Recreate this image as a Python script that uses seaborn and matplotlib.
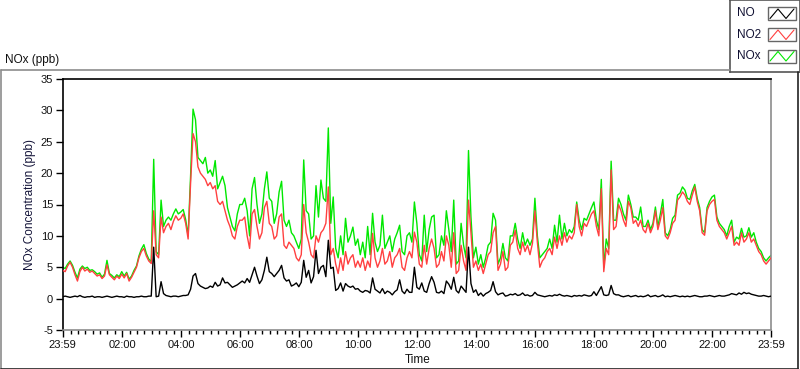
import numpy as np
import pandas as pd
import matplotlib
matplotlib.use('Agg')
import matplotlib.pyplot as plt
import seaborn as sns
from matplotlib.lines import Line2D

# ── data: 5-minute samples, 23:59 -> 23:59 next day (minutes since start) ────
minutes = np.arange(0, 1441, 5)

no = [
    0.3, 0.4, 0.3, 0.2, 0.3, 0.4, 0.3, 0.5, 0.3, 0.2, 0.3, 0.3,
    0.4, 0.2, 0.3, 0.3, 0.2, 0.3, 0.4, 0.3, 0.2, 0.3, 0.4, 0.3,
    0.3, 0.2, 0.4, 0.3, 0.3, 0.2, 0.3, 0.3, 0.4, 0.3, 0.3, 0.4,
    0.4, 8.2, 0.3, 0.4, 2.7, 0.8, 0.5, 0.4, 0.3, 0.4, 0.4, 0.3,
    0.4, 0.5, 0.5, 0.6, 1.5, 3.6, 4.0, 2.4, 2.0, 1.8, 1.6, 1.7,
    2.0, 1.8, 2.6, 2.0, 2.2, 3.3, 2.5, 2.6, 2.2, 1.8, 2.0, 2.2,
    2.5, 2.8, 2.5, 3.2, 2.6, 3.8, 5.0, 3.6, 2.4, 3.0, 4.5, 6.6,
    4.3, 4.0, 3.5, 4.0, 4.5, 5.3, 3.3, 2.8, 3.0, 2.0, 2.2, 2.5,
    1.9, 2.6, 6.1, 3.4, 4.5, 2.5, 3.5, 7.7, 4.0, 5.0, 5.3, 3.5,
    9.3, 4.8, 5.0, 1.3, 1.6, 2.5, 1.2, 2.4, 2.0, 1.8, 2.0, 1.5,
    1.6, 1.2, 1.0, 1.3, 1.2, 0.9, 3.3, 1.5, 1.2, 0.9, 1.6, 0.8,
    1.2, 1.0, 0.6, 1.1, 1.4, 3.0, 1.2, 0.8, 1.5, 1.0, 1.0, 5.0,
    1.8, 1.5, 2.5, 1.2, 1.0, 2.4, 3.5, 2.6, 1.0, 0.9, 1.2, 0.8,
    2.8, 2.3, 1.5, 3.4, 1.3, 0.9, 2.0, 1.5, 1.0, 8.2, 2.4, 1.0,
    1.4, 0.5, 0.9, 0.4, 0.8, 1.0, 1.3, 2.7, 1.1, 0.6, 0.8, 0.9,
    0.4, 0.5, 0.7, 0.6, 0.8, 0.5, 0.6, 0.9, 0.5, 0.6, 0.4, 0.5,
    1.0, 0.6, 0.5, 0.4, 0.3, 0.4, 0.5, 0.4, 0.6, 0.5, 0.7, 0.5,
    0.4, 0.5, 0.4, 0.3, 0.5, 0.4, 0.5, 0.4, 0.6, 0.5, 0.4, 0.5,
    1.1, 0.5, 1.2, 1.9, 0.6, 0.5, 0.6, 2.1, 0.8, 0.6, 0.6, 0.4,
    0.3, 0.4, 0.5, 0.3, 0.4, 0.5, 0.3, 0.4, 0.3, 0.4, 0.6, 0.3,
    0.4, 0.5, 0.3, 0.4, 0.6, 0.3, 0.4, 0.3, 0.4, 0.5, 0.4, 0.3,
    0.4, 0.3, 0.4, 0.3, 0.4, 0.5, 0.4, 0.3, 0.3, 0.4, 0.4, 0.5,
    0.4, 0.3, 0.4, 0.5, 0.4, 0.4, 0.5, 0.6, 0.8, 0.7, 0.6, 0.9,
    0.7, 1.0, 0.8, 0.9, 0.7, 0.6, 0.5, 0.4, 0.4, 0.5, 0.4, 0.3,
    0.4,
]

no2 = [
    4.5, 4.3, 5.2, 5.8, 5.0, 3.8, 2.8, 4.3, 5.0, 4.4, 4.7, 4.2,
    4.4, 4.0, 3.6, 3.8, 3.2, 3.6, 5.4, 3.8, 3.4, 3.0, 3.6, 3.2,
    3.9, 3.3, 4.0, 2.8, 3.4, 4.2, 5.0, 6.5, 7.5, 8.0, 6.8, 6.0,
    5.6, 14.0, 7.0, 6.5, 13.0, 10.5, 11.5, 12.0, 11.0, 12.3, 13.2, 12.5,
    12.8, 13.5, 12.0, 9.5, 18.4, 26.3, 25.0, 21.0, 20.0, 19.5, 19.0, 18.0,
    18.5, 17.5, 18.0, 15.5, 15.0, 15.5, 14.0, 12.5, 11.5, 10.0, 9.5, 11.5,
    12.5, 12.5, 13.0, 10.0, 8.0, 13.5, 14.2, 11.5, 9.5, 10.5, 14.5, 15.5,
    12.0, 11.5, 9.5, 10.0, 13.0, 13.5, 8.5, 8.0, 9.0, 8.5, 8.0, 6.5,
    6.0, 7.0, 15.0, 10.5, 9.0, 7.0, 6.5, 10.0, 9.0, 10.5, 11.0, 12.0,
    17.8, 7.0, 8.0, 5.5, 4.0, 6.5, 4.5, 7.5, 5.5, 6.5, 7.0, 5.0,
    6.0, 5.0, 6.5, 4.5, 6.0, 5.0, 10.4, 6.5, 5.0, 6.0, 8.0, 5.5,
    6.0, 7.5, 5.0, 6.5, 7.0, 8.0, 5.0, 4.5, 6.5, 7.5, 6.5, 10.6,
    9.0, 5.5, 5.0, 8.5, 5.5, 8.0, 9.5, 8.0, 5.0, 5.5, 7.5, 6.0,
    10.0, 8.5, 5.0, 10.5, 4.0, 4.5, 8.5, 6.0, 4.5, 15.7, 10.5, 5.0,
    6.0, 4.5, 5.5, 4.0, 5.5, 7.0, 7.5, 10.5, 11.5, 4.5, 5.5, 7.5,
    4.5, 5.0, 8.5, 9.0, 10.9, 8.0, 7.0, 9.0, 7.5, 8.5, 7.0, 8.8,
    14.0, 9.0, 5.0, 6.0, 6.5, 7.5, 8.0, 7.0, 9.8, 8.0, 10.0, 8.5,
    10.5, 9.0, 10.0, 9.5, 10.5, 15.0, 11.5, 10.0, 12.0, 11.5, 12.5, 13.5,
    14.0, 11.5, 10.0, 17.5, 4.3, 8.0, 7.0, 20.5, 11.0, 11.5, 15.0, 14.0,
    12.5, 11.5, 15.5, 14.5, 12.0, 12.5, 11.5, 12.5, 11.0, 10.5, 12.0, 10.5,
    11.5, 14.0, 11.0, 12.5, 14.5, 10.0, 9.5, 10.5, 12.0, 12.5, 15.7, 16.2,
    17.0, 16.5, 15.5, 15.0, 16.5, 17.8, 15.5, 14.0, 10.5, 10.1, 14.0, 15.0,
    15.5, 15.8, 12.5, 11.5, 11.0, 10.5, 9.5, 10.5, 11.5, 8.5, 9.0, 8.5,
    10.5, 9.0, 9.5, 10.5, 9.0, 9.5, 8.5, 7.5, 7.0, 6.0, 5.5, 6.0,
    6.5,
]

nox = [
    5.0, 4.8, 5.5, 6.0, 5.3, 4.2, 3.3, 4.7, 5.2, 4.8, 5.0, 4.5,
    4.6, 4.3, 3.9, 4.1, 3.4, 3.9, 6.1, 4.0, 3.7, 3.3, 3.8, 3.5,
    4.3, 3.6, 4.2, 3.1, 3.6, 4.5, 5.2, 6.8, 7.9, 8.6, 7.2, 6.3,
    5.9, 22.2, 7.5, 7.0, 15.7, 11.5, 12.5, 13.0, 12.5, 13.5, 14.3, 13.5,
    13.8, 14.2, 12.6, 10.0, 19.6, 30.2, 28.5, 22.5, 22.0, 21.5, 22.5, 20.0,
    20.5, 19.5, 22.0, 17.5, 18.5, 19.5, 18.0, 14.5, 13.0, 11.5, 10.8, 13.5,
    15.0, 15.0, 16.0, 14.0, 10.0, 17.5, 19.3, 15.0, 12.0, 13.5, 17.5, 20.2,
    16.0, 15.5, 12.0, 13.5, 17.0, 18.7, 12.5, 11.5, 12.5, 10.5, 10.0, 9.0,
    8.0, 9.5, 22.1, 14.0, 13.5, 9.5, 10.0, 18.0, 13.0, 18.9, 16.0, 15.5,
    27.2, 12.0, 16.2, 8.0, 6.5, 10.0, 7.0, 12.8, 9.0, 10.0, 11.4, 8.5,
    9.5, 7.0, 9.0, 6.5, 11.5, 7.0, 13.6, 9.0, 7.5, 8.5, 13.3, 8.0,
    9.0, 10.0, 7.5, 9.5, 10.5, 11.7, 7.5, 7.0, 10.0, 10.5, 9.0, 15.4,
    12.0, 7.0, 6.0, 13.3, 7.5, 11.0, 13.0, 13.3, 6.5, 7.0, 10.0, 8.5,
    14.0, 11.0, 7.5, 15.7, 5.5, 6.0, 12.0, 8.5, 6.5, 23.6, 13.0, 6.5,
    8.2, 5.5, 7.0, 5.0, 6.5, 8.5, 9.0, 13.6, 12.5, 5.5, 6.5, 8.8,
    6.5, 6.0, 10.0, 10.0, 12.0, 9.5, 8.0, 10.5, 8.5, 9.5, 8.5, 9.5,
    16.0, 10.0, 6.5, 7.0, 7.5, 8.0, 9.5, 8.0, 11.7, 9.0, 13.3, 9.5,
    12.0, 10.0, 11.0, 10.5, 11.5, 15.4, 12.5, 11.0, 12.8, 12.5, 13.5, 14.5,
    15.4, 12.5, 11.0, 19.0, 5.0, 9.5, 8.0, 21.9, 12.5, 12.5, 16.0, 15.0,
    13.5, 12.5, 16.5, 15.0, 13.0, 13.0, 12.5, 14.6, 11.5, 11.5, 12.5, 11.0,
    12.0, 14.6, 11.5, 13.5, 15.8, 10.5, 10.0, 11.0, 12.8, 13.3, 16.5, 16.8,
    17.8, 17.3, 16.0, 15.8, 17.2, 18.2, 16.0, 14.5, 11.0, 10.5, 14.5, 15.5,
    16.2, 16.5, 13.0, 12.0, 11.5, 11.0, 10.0, 11.5, 12.5, 9.0, 9.8, 9.5,
    11.2, 9.8, 10.0, 11.3, 9.8, 10.5, 9.0, 8.0, 7.5, 6.5, 6.0, 6.5,
    6.9,
]

major_labels = ['23:59', '02:00', '04:00', '06:00', '08:00', '10:00', '12:00',
                '14:00', '16:00', '18:00', '20:00', '22:00', '23:59']
y_ticks = [-5, 0, 5, 10, 15, 20, 25, 30, 35]
series_names = ['NO', 'NO2', 'NOx']

df = pd.DataFrame({'t': minutes, 'NO': no, 'NO2': no2, 'NOx': nox})

# ── style ───────────────────────────────────────────────────────────────────
sns.set_style('white')
plt.rcParams['font.family'] = ['Liberation Sans', 'DejaVu Sans']
col = {'NO': '#000000', 'NO2': '#ff4040', 'NOx': '#00e800'}
frame_gray = '#8c8c8c'

fig = plt.figure(figsize=(8, 3.69), dpi=100)
fig.patch.set_facecolor('white')

ax = fig.add_axes([62.7 / 800, 1 - 330 / 369, (771 - 62.7) / 800, (330 - 79) / 369])
ax.set_facecolor('white')

for name, z in [('NOx', 2), ('NO2', 3), ('NO', 4)]:
    sns.lineplot(data=df, x='t', y=name, ax=ax, color=col[name],
                 linewidth=1.0, zorder=z, legend=False)

ax.set_xlim(0, 1440)
ax.set_ylim(-5, 35)

major_pos = [0] + [1 + 120 * k for k in range(1, 12)] + [1440]
minor_pos = [1 + 15 * k for k in range(1, 96) if (15 * k) % 120 != 0]
ax.set_xticks(major_pos)
ax.set_xticklabels(major_labels)
ax.set_xticks(minor_pos, minor=True)
ax.set_yticks(y_ticks)
ax.set_yticklabels([str(v) for v in y_ticks])
ax.tick_params(axis='both', which='major', direction='out', length=5, width=1,
               color='black', labelsize=8, pad=2, labelcolor='#111111')
ax.tick_params(axis='x', which='minor', direction='out', length=3, width=1,
               color='black', bottom=True)
ax.tick_params(axis='y', left=True)
ax.tick_params(axis='x', bottom=True)
ax.set_xlabel('')
ax.set_ylabel('')

for s in ['top', 'left']:
    ax.spines[s].set_color('black')
    ax.spines[s].set_linewidth(1.2)
for s in ['right', 'bottom']:
    ax.spines[s].set_color(frame_gray)
    ax.spines[s].set_linewidth(1.2)

# ── labels ──────────────────────────────────────────────────────────────────
fig.text(30 / 800, 1 - 205 / 369, 'NOx Concentration (ppb)', rotation=90,
         ha='center', va='center', fontsize=8.5, color='#15153a')
fig.text(5 / 800, 1 - 60 / 369, 'NOx (ppb)', ha='left', va='center',
         fontsize=8.5, color='#111111')
fig.text(418 / 800, 1 - 360 / 369, 'Time', ha='center', va='center',
         fontsize=8.5, color='#111111')

# ── outer frame ─────────────────────────────────────────────────────────────
def fx(px):
    return px / 800

def fy(py):
    return 1 - py / 369

fig.add_artist(Line2D([fx(0.5), fx(730)], [fy(70), fy(70)], color=frame_gray, lw=1.2))
fig.add_artist(Line2D([fx(0.5), fx(0.5)], [fy(70), fy(368.5)], color=frame_gray, lw=1.2))
fig.add_artist(Line2D([fx(0.5), fx(797.5)], [fy(368.5), fy(368.5)], color='#222222', lw=1.2))
fig.add_artist(Line2D([fx(797.5), fx(797.5)], [fy(72), fy(368.5)], color='#222222', lw=1.2))

# ── legend box ──────────────────────────────────────────────────────────────
lg = fig.add_axes([fx(730), fy(72), fx(70), 72 / 369])
lg.set_xlim(0, 70)
lg.set_ylim(72, 0)
lg.set_xticks([])
lg.set_yticks([])
for s in lg.spines.values():
    s.set_color('#555555')
    s.set_linewidth(1.2)
rows_y = [13.5, 34.5, 56]
for name, yy in zip(series_names, rows_y):
    lg.text(7, yy, name, ha='left', va='center', fontsize=8.5, color='#111133')
    lg.add_patch(plt.Rectangle((38, yy - 6.5), 28, 13, fill=False,
                               edgecolor='#666666', lw=1.0))
    lg.plot([40, 48, 56, 64], [yy + 5, yy - 4.5, yy + 5, yy - 4.5],
            color=col[name], lw=0.8)

fig.savefig('out.png', dpi=100, facecolor='white')
